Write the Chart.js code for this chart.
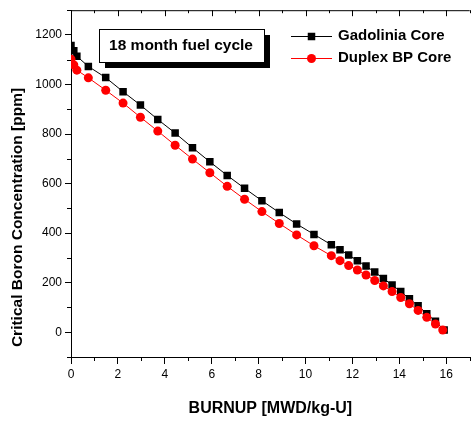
<!DOCTYPE html>
<html>
<head>
<meta charset="utf-8">
<script src="https://cdn.jsdelivr.net/npm/chart.js@4.4.0/dist/chart.umd.min.js"></script>
<style>
  html, body { margin: 0; padding: 0; background: #fff; }
  #wrap { width: 475px; height: 422px; }
</style>
</head>
<body>
<div id="wrap"><canvas id="chart1"></canvas></div>
<script>
// burnup [MWD/kg-U] and critical boron [ppm]
var burnupGd = [0, 0.12, 0.25, 0.74, 1.48, 2.22, 2.96, 3.70, 4.44, 5.18, 5.92, 6.66, 7.40, 8.14, 8.88, 9.62,
                10.36, 11.10, 11.47, 11.84, 12.21, 12.58, 12.95, 13.32, 13.69, 14.06, 14.43, 14.80, 15.17, 15.54, 15.91];
var boronGd = [1158, 1136, 1114, 1073, 1028, 971, 917, 859, 804, 745, 688, 633, 581, 531, 483, 437,
               395, 353, 333, 312, 289, 267, 243, 217, 191, 164, 135, 107, 75, 44, 9];

var burnupDx = [0, 0.12, 0.25, 0.74, 1.48, 2.22, 2.96, 3.70, 4.44, 5.18, 5.92, 6.66, 7.40, 8.14, 8.88, 9.62,
                10.36, 11.10, 11.47, 11.84, 12.21, 12.58, 12.95, 13.32, 13.69, 14.06, 14.43, 14.80, 15.17, 15.54, 15.85];
var boronDx = [1102, 1079, 1058, 1027, 977, 925, 868, 812, 755, 699, 644, 589, 537, 487, 439, 393,
               349, 309, 289, 269, 251, 231, 209, 187, 164, 140, 115, 88, 60, 33, 9];

var xLabels = [0, 2, 4, 6, 8, 10, 12, 14, 16];
var yLabels = [0, 200, 400, 600, 800, 1000, 1200];

var FONT = "'Liberation Sans', Arial, sans-serif";

function pts(xs, ys) {
    return xs.map(function(x, i) { return {x: x, y: ys[i]}; });
}

// minor ticks, top frame, legend, note box, y title
var extras = {
    id: 'extras',
    afterDraw: function(chart) {
        var c = chart.ctx, a = chart.chartArea;
        var xs = chart.scales.x, ys = chart.scales.y;
        c.save();
        c.strokeStyle = '#000';
        c.lineWidth = 1;
        function line(x1, y1, x2, y2) {
            c.beginPath(); c.moveTo(x1, y1); c.lineTo(x2, y2); c.stroke();
        }
        line(a.left, a.top + 0.5, a.right, a.top + 0.5);
        xs.ticks.forEach(function(t) {
            var px = Math.round(xs.getPixelForValue(t.value)) + 0.5;
            var major = xLabels.indexOf(t.value) >= 0;
            if (!major) line(px, a.bottom, px, a.bottom + 4);
            line(px, a.top, px, a.top + (major ? 6 : 3));
        });
        ys.ticks.forEach(function(t) {
            var py = Math.round(ys.getPixelForValue(t.value)) + 0.5;
            if (yLabels.indexOf(t.value) < 0) line(a.left - 4, py, a.left, py);
        });

        // note box with shadow
        c.fillStyle = '#000';
        c.fillRect(105, 35, 165, 33);
        c.fillStyle = '#fff';
        c.fillRect(99.5, 29.5, 165, 33);
        c.strokeRect(99.5, 29.5, 165, 33);
        c.fillStyle = '#000';
        c.font = 'bold 15.5px ' + FONT;
        c.textAlign = 'center';
        c.textBaseline = 'middle';
        c.fillText('18 month fuel cycle', 181, 46);

        // legend
        var ly = [36, 58];
        chart.data.datasets.forEach(function(ds, i) {
            var y = ly[i] + 0.5;
            c.strokeStyle = ds.borderColor;
            line(291, y, 332, y);
            c.fillStyle = ds.pointBackgroundColor;
            if (ds.pointStyle === 'rect') {
                c.fillRect(311.5 - 3.75, y - 3.75, 7.5, 7.5);
            } else {
                c.beginPath(); c.arc(311.5, y, 4.5, 0, Math.PI * 2); c.fill();
            }
            c.fillStyle = '#000';
            c.font = 'bold 15px ' + FONT;
            c.textAlign = 'left';
            c.fillText(ds.label, 338, ly[i]);
        });

        // y axis title
        c.save();
        c.translate(18, 217.5);
        c.rotate(-Math.PI / 2);
        c.font = 'bold 15.5px ' + FONT;
        c.textAlign = 'center';
        c.fillText('Critical Boron Concentration [ppm]', 0, 0);
        c.restore();
        c.restore();
    }
};

var ctx = document.getElementById('chart1').getContext('2d');
var myChart = new Chart(ctx, {
    type: 'line',
    data: {
        datasets: [{
            label: 'Gadolinia Core',
            data: pts(burnupGd, boronGd),
            borderColor: '#000',
            backgroundColor: '#000',
            pointBackgroundColor: '#000',
            pointBorderColor: '#000',
            pointStyle: 'rect',
            pointRadius: 5.3,
            pointBorderWidth: 0,
            borderWidth: 1,
            tension: 0,
            order: 1
        },
        {
            label: 'Duplex BP Core',
            data: pts(burnupDx, boronDx),
            borderColor: '#ff0000',
            backgroundColor: '#ff0000',
            pointBackgroundColor: '#ff0000',
            pointBorderColor: '#ff0000',
            pointStyle: 'circle',
            pointRadius: 4.5,
            pointBorderWidth: 0,
            borderWidth: 1,
            tension: 0,
            order: 0
        }]
    },
    options: {
        responsive: true,
        maintainAspectRatio: false,
        animation: false,
        layout: { padding: { top: 7, right: 0, bottom: 0, left: 0 } },
        plugins: {
            legend: { display: false },
            tooltip: { enabled: false }
        },
        scales: {
            x: {
                type: 'linear',
                min: 0,
                max: 17,
                afterFit: function(scale) { scale.height = 65; },
                ticks: {
                    stepSize: 1,
                    autoSkip: false,
                    maxRotation: 0,
                    padding: 3,
                    color: '#000',
                    font: { family: FONT, size: 12 },
                    callback: function(v) { return xLabels.indexOf(v) >= 0 ? v : ''; }
                },
                grid: {
                    drawOnChartArea: false,
                    tickLength: 7,
                    tickColor: function(c) { return c.tick && xLabels.indexOf(c.tick.value) >= 0 ? '#000' : 'rgba(0,0,0,0)'; }
                },
                border: { color: '#000', width: 1 },
                title: {
                    display: true,
                    text: 'BURNUP [MWD/kg-U]',
                    color: '#000',
                    font: { family: FONT, size: 16, weight: 'bold' },
                    padding: { top: 0, bottom: 4 }
                }
            },
            y: {
                min: -100,
                max: 1300,
                afterFit: function(scale) { scale.width = 71; },
                ticks: {
                    stepSize: 100,
                    autoSkip: false,
                    padding: 3,
                    color: '#000',
                    font: { family: FONT, size: 12 },
                    callback: function(v) { return yLabels.indexOf(v) >= 0 ? v : ''; }
                },
                grid: {
                    drawOnChartArea: false,
                    tickLength: 6,
                    tickColor: function(c) { return c.tick && yLabels.indexOf(c.tick.value) >= 0 ? '#000' : 'rgba(0,0,0,0)'; }
                },
                border: { color: '#000', width: 1 }
            }
        }
    },
    plugins: [extras]
});
</script>
</body>
</html>
